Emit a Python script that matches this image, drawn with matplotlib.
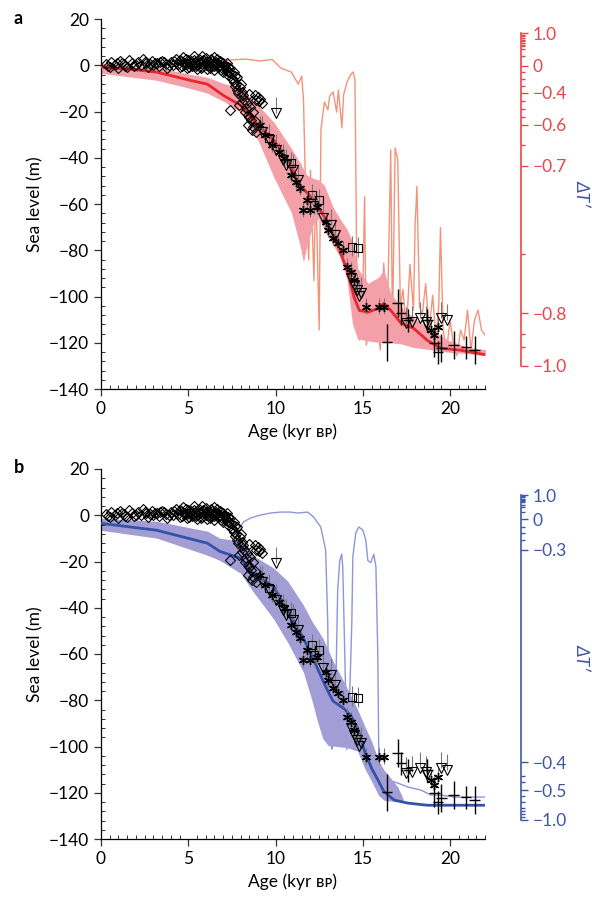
import numpy as np
import matplotlib
matplotlib.use('Agg')
import matplotlib.pyplot as plt
from matplotlib.ticker import MultipleLocator, FixedLocator, FixedFormatter

plt.rcParams['font.family'] = ['Lato', 'DejaVu Sans']
plt.rcParams['font.size'] = 12.5
plt.rcParams['axes.linewidth'] = 0.9

# ---- observations (same in both panels) ----
dia_age = [0.3, 0.5, 0.6, 0.8, 1.0, 1.1, 1.3, 1.5, 1.6, 1.8, 1.9, 2.1, 2.3, 2.4, 2.6, 2.7,
           2.9, 3.0, 3.2, 3.3, 3.5, 3.7, 3.8, 4.0, 4.1, 4.3, 4.4, 4.5, 4.6, 4.7, 4.8, 4.9,
           5.0, 5.1, 5.2, 5.3, 5.4, 5.5, 5.5, 5.6, 5.7, 5.8, 5.8, 5.9, 6.0, 6.0, 6.1, 6.2,
           6.3, 6.3, 6.4, 6.5, 6.5, 6.6, 6.7, 6.8, 6.8, 6.9, 7.0, 7.0, 7.1, 7.2, 7.2, 7.3,
           7.4, 7.4, 7.5, 7.6, 7.6, 7.7, 7.8, 7.8, 7.9, 8.0, 8.0, 8.1, 8.2, 8.3, 8.4, 8.4,
           8.5, 8.6, 8.7, 8.7, 8.9, 8.9, 9.0, 9.2,
           4.55, 4.65, 4.75, 4.85, 4.95, 5.05, 5.15, 5.25, 5.35, 5.45, 5.65, 5.75, 5.85, 5.95,
           6.05, 6.15, 6.25, 6.35, 6.45, 6.55, 6.65, 6.75, 6.85, 6.95, 7.05, 7.15, 7.25, 7.35,
           1.2, 1.4, 2.0, 2.5, 3.1, 3.4, 3.9, 4.2, 0.4, 0.9, 2.8, 3.6,
           7.45, 7.55, 7.65, 7.75, 7.85, 7.95, 8.05, 8.15, 8.25, 8.35, 8.5, 8.55, 8.65, 8.8, 8.8, 9.05, 9.1]
dia_m = [0.5, -0.8, 1.2, 0.2, -1.0, 1.8, 0.4, -0.6, 2.2, 0.9, -0.3, 1.5, 0.0, 2.6, 0.8, -0.9,
         1.9, 0.3, 1.1, -0.5, 2.0, 0.6, -1.2, 1.4, 0.0, 2.8, 0.7, -0.8, 1.9, 3.5, 0.4, -1.3,
         2.4, 0.9, -0.2, 3.9, 1.6, 0.2, -1.8, 2.7, 0.8, 4.2, -0.9, 1.8, 0.0, 3.0, -1.6, 1.2,
         2.5, -0.4, 0.7, 3.4, -2.2, 1.5, -0.8, 2.0, 0.2, -1.9, 1.0, -3.0, -0.6, 0.8, -2.5, -4.0,
         -1.2, -19.5, -5.5, -3.0, -7.4, -9.0, -10.8, -5.0, -17.3, -13.4, -8.0, -11.5, -15.1, -18.6, -21.6, -25.9,
         -12.5, -23.8, -20.3, -26.8, -15.1, -29.0, -13.8, -16.4,
         2.3, -0.2, 1.1, 2.9, 0.6, -0.9, 1.9, 0.1, 2.2, -0.5, 1.2, -1.4, 2.4, 0.6,
         1.6, 0.2, -1.0, 1.8, -0.2, 0.9, 2.6, -0.4, 1.2, -1.0, 0.2, -1.8, -0.9, -2.8,
         0.9, -0.2, 0.2, 1.6, 0.9, 1.4, 0.3, 1.8, -0.2, 0.9, 0.5, 1.5,
         -3.5, -6.2, -4.5, -8.2, -12.0, -9.5, -16.0, -13.0, -20.0, -16.5, -22.5, -18.0, -28.0, -13.0, -24.0, -15.5, -14.5]

tri_age = [10.0, 9.25, 9.6, 10.0, 10.4, 10.6, 11.0, 11.3, 12.7, 13.2, 13.4, 14.3, 14.5, 14.65,
           14.8, 14.9, 17.5, 17.8, 18.3, 18.6, 18.7, 19.5, 19.8]
tri_m = [-20.8, -29.0, -32.4, -36.8, -41.1, -43.2, -45.4, -49.7, -66.2, -69.2, -73.5, -92.1, -95.1, -97.3,
         -99.9, -98.6, -111.6, -111.1, -109.4, -111.1, -112.4, -109.4, -110.3]

sq_age = [9.6, 10.9, 12.1, 12.2, 12.5, 14.4, 14.7]
sq_m = [-31.6, -42.4, -56.2, -60.5, -58.4, -78.7, -79.1]

ast_age = [9.1, 9.4, 9.8, 10.2, 10.5, 10.9, 11.2, 11.4, 11.55, 11.8, 12.0, 12.4, 12.9, 13.0,
           13.3, 13.6, 13.85, 14.1, 14.3, 14.5, 15.2, 15.9, 16.2, 18.9, 19.1, 19.3]
ast_m = [-25.9, -30.3, -34.6, -37.6, -40.2, -47.6, -50.6, -53.2, -62.7, -58.4, -62.7, -61.4, -67.9, -71.4,
         -74.8, -77.0, -80.0, -87.4, -89.5, -93.0, -104.6, -104.6, -104.6, -114.6, -116.8, -113.3]

cr_age = [17.0, 17.2, 17.6, 16.4, 18.7, 19.1, 19.5, 19.3, 20.2, 20.9, 21.4]
cr_m = [-102.9, -107.2, -110.3, -119.8, -110.3, -120.2, -122.4, -124.1, -121.1, -121.9, -123.2]
cr_err = [6, 5, 5, 8, 5, 6, 6, 5, 6, 5, 6]

# ---- panel a: model (red) ----
a_band_age = [0, 3.2, 5.1, 6.1, 7.0, 8.0, 9.0, 9.9, 10.9, 11.4, 11.6, 11.8, 12.2, 12.5, 12.8,
              13.3, 13.7, 14.1, 14.4, 14.7, 15.3, 15.9, 16.2, 16.6, 17.2, 17.9, 18.9, 19.9, 21.0, 22.2]
a_band_hi = [0.9, -0.9, -3.9, -5.2, -7.8, -9.9, -17.3, -24.6, -35.9, -42.0, -45.0, -47.6, -49.0, -49.7, -52.0,
             -61.4, -66.5, -71.0, -76.0, -87.8, -94.3, -91.7, -88.6, -98.6, -104.6, -109.0, -114.6, -118.9, -121.9, -123.2]
a_band_lo = [-3.5, -6.5, -10.0, -12.1, -15.5, -20.3, -32.4, -48.4, -63.6, -77.8, -85.2, -77.8, -67.9, -66.2, -71.4,
             -78.0, -83.0, -93.0, -111.6, -118.3, -119.2, -119.8, -119.9, -120.0, -120.5, -122.0, -123.0, -124.1, -124.7, -125.8]
a_line_age = [0, 1.66, 3.2, 5.1, 6.1, 7.0, 8.0, 9.0, 9.9, 10.9, 11.3, 12.2, 12.8, 13.6, 14.1, 14.5,
              14.8, 15.3, 15.9, 16.2, 16.6, 17.2, 17.9, 18.7, 19.5, 20.6, 22.2]
a_line_m = [-0.9, -1.7, -3.0, -6.5, -8.2, -13.0, -17.3, -26.0, -32.4, -43.2, -51.0, -58.4, -65.7, -78.7, -88.6, -100.3,
            -106.0, -106.8, -105.0, -103.0, -106.0, -111.6, -113.7, -119.0, -122.4, -123.2, -125.4]
a_t_age = [6.7, 7.4, 8.3, 9.1, 9.8, 10.3, 10.9, 11.3, 11.5, 11.6, 11.7, 11.9, 12.0, 12.2, 12.3, 12.5,
           12.6, 12.8, 13.0, 13.1, 13.3, 13.5, 13.6, 13.8, 13.9, 14.1, 14.3, 14.45, 14.55, 14.65, 14.8, 15.0,
           15.1, 15.2, 15.4, 15.6, 15.8, 16.0, 16.2, 16.4, 16.6, 16.7, 16.85, 17.0, 17.15, 17.3, 17.5, 17.7,
           17.9, 18.0, 18.1, 18.25, 18.4, 18.6, 18.8, 19.0, 19.2, 19.35, 19.45, 19.6, 19.8, 20.0, 20.2, 20.4,
           20.6, 20.8, 21.0, 21.2, 21.4, 21.6, 21.8, 22.0]
a_t_val = [0.09, 0.18, 0.21, 0.15, 0.2, -0.03, -0.09, -0.27, -0.15, -0.44, -0.706, -0.764, -0.703, -0.778, -0.71, -0.864,
           -0.612, -0.456, -0.506, -0.42, -0.385, -0.52, -0.356, -0.607, -0.41, -0.237, -0.13, -0.089, -0.207, -0.764, -0.902, -0.791,
           -0.721, -0.921, -0.826, -0.902, -0.798, -0.94, -0.766, -0.845, -0.661, -0.864, -0.656, -0.685, -0.795, -0.784, -0.864, -0.767,
           -0.798, -0.739, -0.714, -0.795, -0.808, -0.78, -0.864, -0.788, -0.902, -0.795, -0.742, -0.864, -0.94, -0.826, -0.921, -0.96,
           -0.864, -0.902, -0.798, -0.94, -0.826, -0.798, -0.864, -0.883]
a_tick_vals = [-1.0, -0.8, -0.7, -0.6, -0.4, 0.0, 1.0]
a_tick_labels = ['−1.0', '−0.8', '−0.7', '−0.6', '−0.4', '0', '1.0']
a_tick_pos = [0.0, 0.159, 0.601, 0.724, 0.820, 0.901, 1.0]
a_minor = [0.95, 0.9, 0.85, 0.8, 0.75, 0.7, 0.65, 0.6, 0.5, 0.3, -0.09, -0.19, -0.3,
           -0.45, -0.5, -0.55, -0.65, -0.76, -0.88, -0.93]

# ---- panel b: model (blue) ----
b_band_age = [0, 3.2, 6.1, 6.8, 8.0, 8.7, 9.9, 10.7, 11.6, 12.1, 12.4, 12.7, 13.0, 13.3, 14.1,
              14.7, 15.1, 15.5, 15.9, 16.2, 16.6, 17.0, 17.3]
b_band_hi = [-1.3, -2.6, -6.9, -9.9, -11.2, -17.3, -22.9, -28.5, -38.9, -46.0, -49.5, -53.0, -58.0, -63.1, -74.8,
             -84.0, -91.0, -97.7, -106.0, -110.0, -113.7, -117.5, -122.4]
b_band_lo = [-6.5, -9.9, -17.3, -19.5, -25.1, -32.9, -45.0, -55.0, -68.0, -80.4, -89.1, -96.4, -99.5, -99.8, -100.5,
             -102.0, -109.4, -115.0, -121.1, -123.2, -123.6, -123.7, -123.7]
b_line_age = [0, 3.2, 6.1, 6.8, 8.0, 8.7, 9.9, 10.7, 11.6, 12.4, 13.0, 13.3, 13.9, 14.3, 14.7, 15.1,
              15.5, 15.9, 16.2, 16.8, 17.6, 18.7, 22.2]
b_line_m = [-3.5, -6.5, -12.1, -15.6, -18.6, -25.0, -31.0, -41.5, -53.2, -66.2, -76.1, -80.4, -83.5, -86.5, -92.1, -102.0,
            -109.4, -115.0, -119.4, -123.2, -124.5, -125.4, -125.4]
b_t_age = [7.41, 7.82, 7.99, 8.16, 8.56, 9.14, 9.71, 10.29, 10.86, 11.26, 11.84, 12.18, 12.59, 12.87, 12.99, 13.05,
           13.22, 13.33, 13.45, 13.56, 13.68, 13.79, 13.85, 13.97, 14.08, 14.2, 14.37, 14.43, 14.6, 14.77, 15.0, 15.17,
           15.29, 15.46, 15.63, 15.75, 15.86, 15.92, 16.15, 16.44, 17.01, 17.59, 18.33, 18.91, 19.48, 20.23, 21.03, 22.0]
b_t_val = [-0.01, -0.058, -0.077, -0.029, 0.042, 0.167, 0.25, 0.29, 0.29, 0.25, 0.29, 0.083, -0.077, -0.3, -0.334, -0.382,
           -0.394, -0.391, -0.366, -0.319, -0.305, -0.302, -0.308, -0.35, -0.394, -0.382, -0.334, -0.303, -0.135, -0.077, -0.106, -0.203,
           -0.305, -0.306, -0.302, -0.308, -0.35, -0.418, -0.454, -0.464, -0.475, -0.489, -0.5, -0.583, -0.583, -0.617, -0.617, -0.617]
b_tick_vals = [-1.0, -0.5, -0.4, -0.3, 0.0, 1.0]
b_tick_labels = ['−1.0', '−0.5', '−0.4', '−0.3', '0', '1.0']
b_tick_pos = [0.0, 0.092, 0.178, 0.831, 0.926, 1.0]
b_minor = [0.95, 0.9, 0.85, 0.8, 0.75, 0.7, 0.6, 0.5, 0.3, -0.08, -0.14, -0.2,
           -0.45, -0.47, -0.6, -0.7, -0.8, -0.85, -0.9, -0.95]

fig = plt.figure(figsize=(5.92, 8.98), dpi=100)
L, W = 101 / 592, 384 / 592


def sea_axes(bottom):
    ax = fig.add_axes([L, bottom, W, 370 / 898])
    ax.set_xlim(0, 22)
    ax.set_ylim(-140, 20)
    ax.spines['top'].set_visible(False)
    ax.spines['right'].set_visible(False)
    ax.xaxis.set_major_locator(MultipleLocator(5))
    ax.xaxis.set_minor_locator(MultipleLocator(0.5))
    ax.yaxis.set_major_locator(MultipleLocator(20))
    ax.yaxis.set_minor_locator(MultipleLocator(4))
    ax.tick_params(which='major', direction='out', length=5, width=0.9, color='#333333')
    ax.tick_params(which='minor', direction='in', length=3, width=0.7, color='#333333')
    ax.set_xlabel('Age (kyr ʙᴘ)', labelpad=5)
    ax.set_ylabel('Sea level (m)', labelpad=4)
    ax.patch.set_visible(False)
    ax.set_zorder(2)
    return ax


def temp_axes(bottom, height, vals, pos, labels, minors, color):
    axt = fig.add_axes([L, bottom, W, height])
    axt.set_zorder(1)
    fwd = lambda v: np.interp(v, vals, pos)
    inv = lambda p: np.interp(p, pos, vals)
    axt.set_yscale('function', functions=(fwd, inv))
    axt.set_ylim(-1, 1)
    axt.set_xlim(0, 22)
    axt.patch.set_visible(False)
    for s in ('top', 'left', 'bottom'):
        axt.spines[s].set_visible(False)
    axt.spines['right'].set_position(('outward', 26))
    axt.spines['right'].set_color(color)
    axt.spines['right'].set_linewidth(1.2)
    axt.xaxis.set_visible(False)
    axt.yaxis.tick_right()
    axt.yaxis.set_major_locator(FixedLocator(vals))
    axt.yaxis.set_major_formatter(FixedFormatter(labels))
    axt.yaxis.set_minor_locator(FixedLocator(minors))
    axt.tick_params(axis='y', which='both', colors=color, width=1)
    axt.tick_params(axis='y', which='major', length=5, pad=3)
    axt.tick_params(axis='y', which='minor', length=3)
    return axt


def observations(ax):
    ax.vlines(tri_age, tri_m, np.array(tri_m) + 7, color='#777777', lw=0.8, zorder=4)
    ax.vlines(sq_age, np.array(sq_m) - 4, np.array(sq_m) + 5, color='#777777', lw=0.8, zorder=4)
    ax.vlines(ast_age, np.array(ast_m) - 3, np.array(ast_m) + 4, color='#777777', lw=0.8, zorder=4)
    ax.plot(dia_age, dia_m, 'D', ms=5.5, mfc='none', mec='black', mew=0.8, zorder=5)
    ax.plot(tri_age, tri_m, 'v', ms=6.5, mfc='none', mec='black', mew=0.8, zorder=5)
    ax.plot(sq_age, sq_m, 's', ms=5.5, mfc='none', mec='black', mew=0.8, zorder=5)
    ax.plot(ast_age, ast_m, marker=(6, 2, 0), ls='none', ms=6.5, mec='black', mew=1.0, zorder=5)
    ax.errorbar(cr_age, cr_m, yerr=cr_err, xerr=0.3, fmt='none', ecolor='black', elinewidth=1.0, zorder=5)


# panel a
axa = sea_axes(1 - 389 / 898)
axa.fill_between(a_band_age, a_band_lo, a_band_hi, color='#f3a0a9', lw=0, zorder=1)
axa.plot(a_line_age, a_line_m, color='#e8282e', lw=2, zorder=3)
observations(axa)
ta = temp_axes(1 - 366 / 898, 333 / 898, a_tick_vals, a_tick_pos, a_tick_labels, a_minor, '#e8454a')
ta.plot(a_t_age, a_t_val, color='#f4937a', lw=1)

# panel b
axb = sea_axes(1 - 839 / 898)
axb.fill_between(b_band_age, b_band_lo, b_band_hi, color='#a29dd5', lw=0, zorder=1)
axb.plot(b_line_age, b_line_m, color='#3352aa', lw=2, zorder=3)
observations(axb)
tb = temp_axes(1 - 820 / 898, 325 / 898, b_tick_vals, b_tick_pos, b_tick_labels, b_minor, '#3d57a6')
tb.plot(b_t_age, b_t_val, color='#8e95d8', lw=1)

fig.text(14 / 592, 1 - 18 / 898, 'a', fontsize=13, fontweight='bold', va='center')
fig.text(14 / 592, 1 - 468 / 898, 'b', fontsize=13, fontweight='bold', va='center')
fig.text(574 / 592, 1 - 193 / 898, 'ΔT′', rotation=-90, color='#3d57a6', fontsize=13,
         ha='left', va='center', style='italic')
fig.text(574 / 592, 1 - 657 / 898, 'ΔT′', rotation=-90, color='#3d57a6', fontsize=13,
         ha='left', va='center', style='italic')

fig.savefig('out.png', dpi=100)
